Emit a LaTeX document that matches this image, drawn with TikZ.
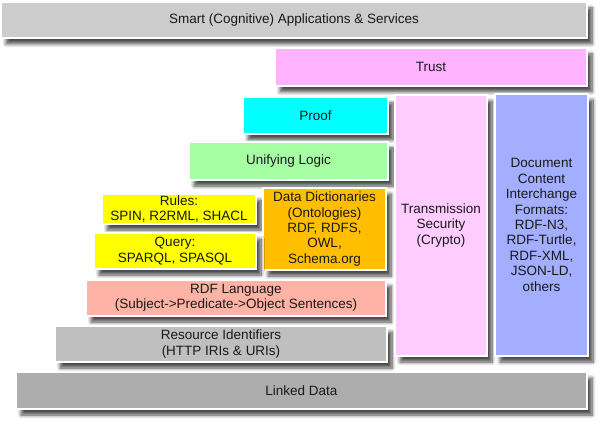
\documentclass[tikz,border=0pt]{standalone}
\usepackage{fontspec}
\setmainfont{Liberation Sans}
\usetikzlibrary{shadows.blur}
\definecolor{cSmart}{HTML}{CCCCCC}
\definecolor{cTrust}{HTML}{FFB3FF}
\definecolor{cProof}{HTML}{00FFFF}
\definecolor{cLogic}{HTML}{A6FFA3}
\definecolor{cYellow}{HTML}{FFFF00}
\definecolor{cDict}{HTML}{FFBF00}
\definecolor{cRdf}{HTML}{FFB2A6}
\definecolor{cRid}{HTML}{BFBFBF}
\definecolor{cLinked}{HTML}{ADADAD}
\definecolor{cTrans}{HTML}{FFCCFF}
\definecolor{cDoc}{HTML}{A3AEFF}
\tikzset{
  layer/.style={draw=white, line width=1.5pt, align=center, inner sep=0pt, outer sep=0pt,
    font=\fontsize{13.5}{15.4}\selectfont, text=black!90,
    blur shadow={shadow xshift=5pt, shadow yshift=-6pt, shadow blur radius=3.5pt, shadow blur steps=8, shadow opacity=70}},
}
\newcommand{\bx}[7]{%
  \node[layer, fill=#6, minimum width={(#4)-(#2)}, minimum height={(#5)-(#3)}]
    (#1) at ({((#2)+(#4))/2},{((#3)+(#5))/2}) {#7};}
\begin{document}
\begin{tikzpicture}[x=1pt, y=-1pt]
\useasboundingbox (0,0) rectangle (605,427);
\bx{smart}{1}{2}{587}{38}{cSmart}{Smart (Cognitive) Applications \& Services}
\bx{trust}{275}{48}{587}{86}{cTrust}{Trust}
\bx{proof}{243}{97}{388}{134}{cProof}{Proof}
\bx{logic}{189}{142}{388}{180}{cLogic}{Unifying Logic}
\bx{rules}{102}{194}{256}{224}{cYellow}{Rules:\\SPIN, R2RML, SHACL}
\bx{dict}{263}{188}{386}{270}{cDict}{Data Dictionaries\\(Ontologies)\\RDF, RDFS,\\OWL,\\Schema.org}
\bx{query}{94}{233}{256}{269}{cYellow}{Query:\\SPARQL, SPASQL}
\bx{rdf}{86}{280}{386}{316}{cRdf}{RDF Language\\(Subject->Predicate->Object Sentences)}
\bx{rid}{55}{326}{387}{362}{cRid}{Resource Identifiers\\(HTTP IRIs \& URIs)}
\bx{linked}{16}{372}{587}{409}{cLinked}{Linked Data}
\bx{trans}{395}{95}{487}{356}{cTrans}{Transmission\\Security\\(Crypto)}
\bx{doc}{495}{94}{588}{356}{cDoc}{Document\\Content\\Interchange\\Formats:\\RDF-N3,\\RDF-Turtle,\\RDF-XML,\\JSON-LD,\\others}
\end{tikzpicture}
\end{document}
